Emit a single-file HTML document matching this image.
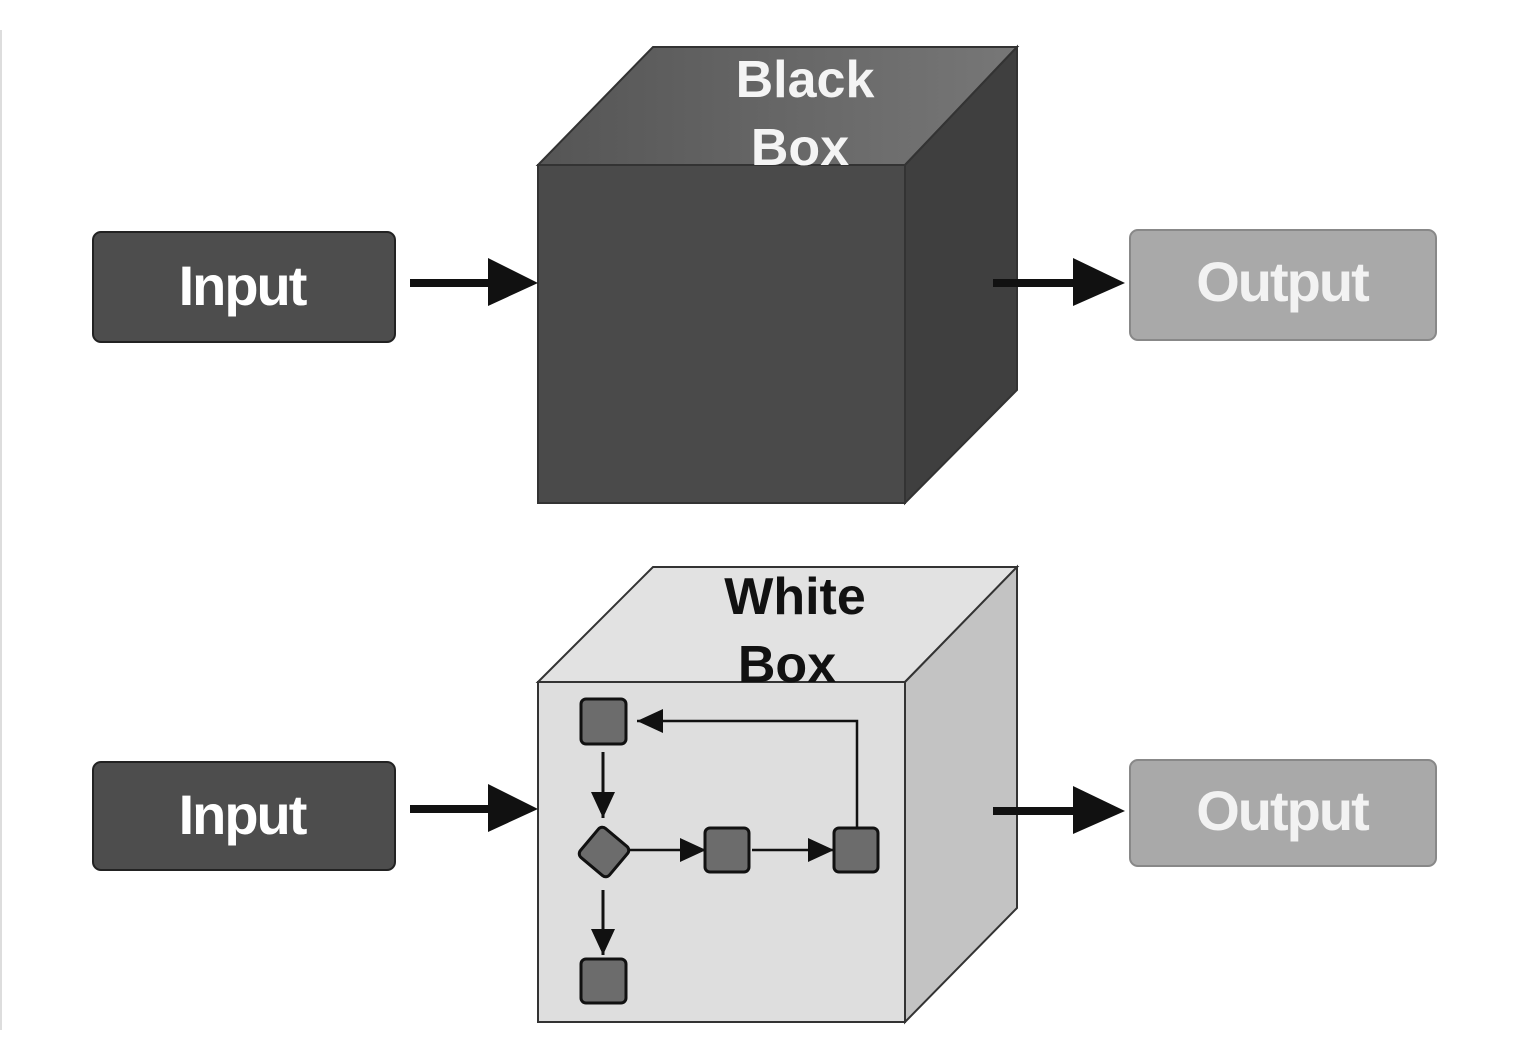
<!DOCTYPE html>
<html><head><style>
body{margin:0;background:#fff;}
svg{display:block;}
text{font-family:"Liberation Sans",sans-serif;font-weight:bold;}
</style></head><body>
<svg width="1520" height="1058" viewBox="0 0 1520 1058" xmlns="http://www.w3.org/2000/svg">
<defs>
<marker id="ah" markerWidth="26" markerHeight="24" refX="26" refY="12" orient="auto" markerUnits="userSpaceOnUse" viewBox="0 0 26 24"><path d="M0,0 L26,12 L0,24z" fill="#111"/></marker>
<linearGradient id="bt" x1="0" y1="0" x2="1" y2="0"><stop offset="0" stop-color="#555"/><stop offset="1" stop-color="#777"/></linearGradient>
</defs>
<rect x="0" y="30" width="2" height="1000" fill="#ddd"/>
<!-- Black box -->
<polygon points="538,165 653,47 1017,47 905,165" fill="url(#bt)" stroke="#333" stroke-width="2"/>
<polygon points="905,165 1017,47 1017,390 905,503" fill="#3f3f3f" stroke="#333" stroke-width="2"/>
<rect x="538" y="165" width="367" height="338" fill="#4a4a4a" stroke="#333" stroke-width="2"/>
<text x="805" y="97" font-size="52" fill="#f4f4f4" text-anchor="middle">Black</text>
<text x="800" y="165" font-size="52" fill="#f4f4f4" text-anchor="middle">Box</text>
<!-- White box -->
<polygon points="538,682 653,567 1017,567 905,682" fill="#e2e2e2" stroke="#333" stroke-width="2"/>
<polygon points="905,682 1017,567 1017,908 905,1022" fill="#c3c3c3" stroke="#333" stroke-width="2"/>
<rect x="538" y="682" width="367" height="340" fill="#dedede" stroke="#333" stroke-width="2"/>
<text x="795" y="614" font-size="52" fill="#111" text-anchor="middle">White</text>
<text x="787" y="682" font-size="52" fill="#111" text-anchor="middle">Box</text>
<!-- inner flow -->
<g stroke="#111" stroke-width="2.5" fill="none">
<path d="M857,827 V721 H637" marker-end="url(#ah)"/>
<line x1="603" y1="752" x2="603" y2="818" stroke-width="3" marker-end="url(#ah)"/>
<line x1="630" y1="850" x2="706" y2="850" marker-end="url(#ah)"/>
<line x1="752" y1="850" x2="834" y2="850" marker-end="url(#ah)"/>
<line x1="603" y1="890" x2="603" y2="955" stroke-width="3" marker-end="url(#ah)"/>
</g>
<g fill="#6c6c6c" stroke="#111" stroke-width="3">
<rect x="581" y="699" width="45" height="45" rx="5"/>
<rect x="705" y="828" width="44" height="44" rx="5"/>
<rect x="834" y="828" width="44" height="44" rx="5"/>
<rect x="581" y="959" width="45" height="44" rx="5"/>
<rect x="585" y="833" width="38" height="38" rx="5" transform="rotate(40 604 852)"/>
</g>
<!-- Inputs -->
<g stroke="#222" stroke-width="2">
<rect x="93" y="232" width="302" height="110" rx="8" fill="#4d4d4d"/>
<rect x="93" y="762" width="302" height="108" rx="8" fill="#4d4d4d"/>
<rect x="1130" y="230" width="306" height="110" rx="8" fill="#a9a9a9" stroke="#888"/>
<rect x="1130" y="760" width="306" height="106" rx="8" fill="#a9a9a9" stroke="#888"/>
</g>
<text x="242" y="305" font-size="56" fill="#fff" text-anchor="middle" letter-spacing="-2">Input</text>
<text x="242" y="834" font-size="56" fill="#fff" text-anchor="middle" letter-spacing="-2">Input</text>
<text x="1282" y="301" font-size="56" fill="#f2f2f2" text-anchor="middle" letter-spacing="-2">Output</text>
<text x="1282" y="830" font-size="56" fill="#f2f2f2" text-anchor="middle" letter-spacing="-2">Output</text>
<!-- big arrows -->
<g fill="#111">
<rect x="410" y="279" width="82" height="8"/><polygon points="488,258 538,283 488,306"/>
<rect x="410" y="805" width="82" height="8"/><polygon points="488,784 538,809 488,832"/>
<rect x="993" y="279" width="84" height="8"/><polygon points="1073,258 1125,283 1073,306"/>
<rect x="993" y="807" width="84" height="8"/><polygon points="1073,786 1125,811 1073,834"/>
</g>
</svg>
</body></html>
